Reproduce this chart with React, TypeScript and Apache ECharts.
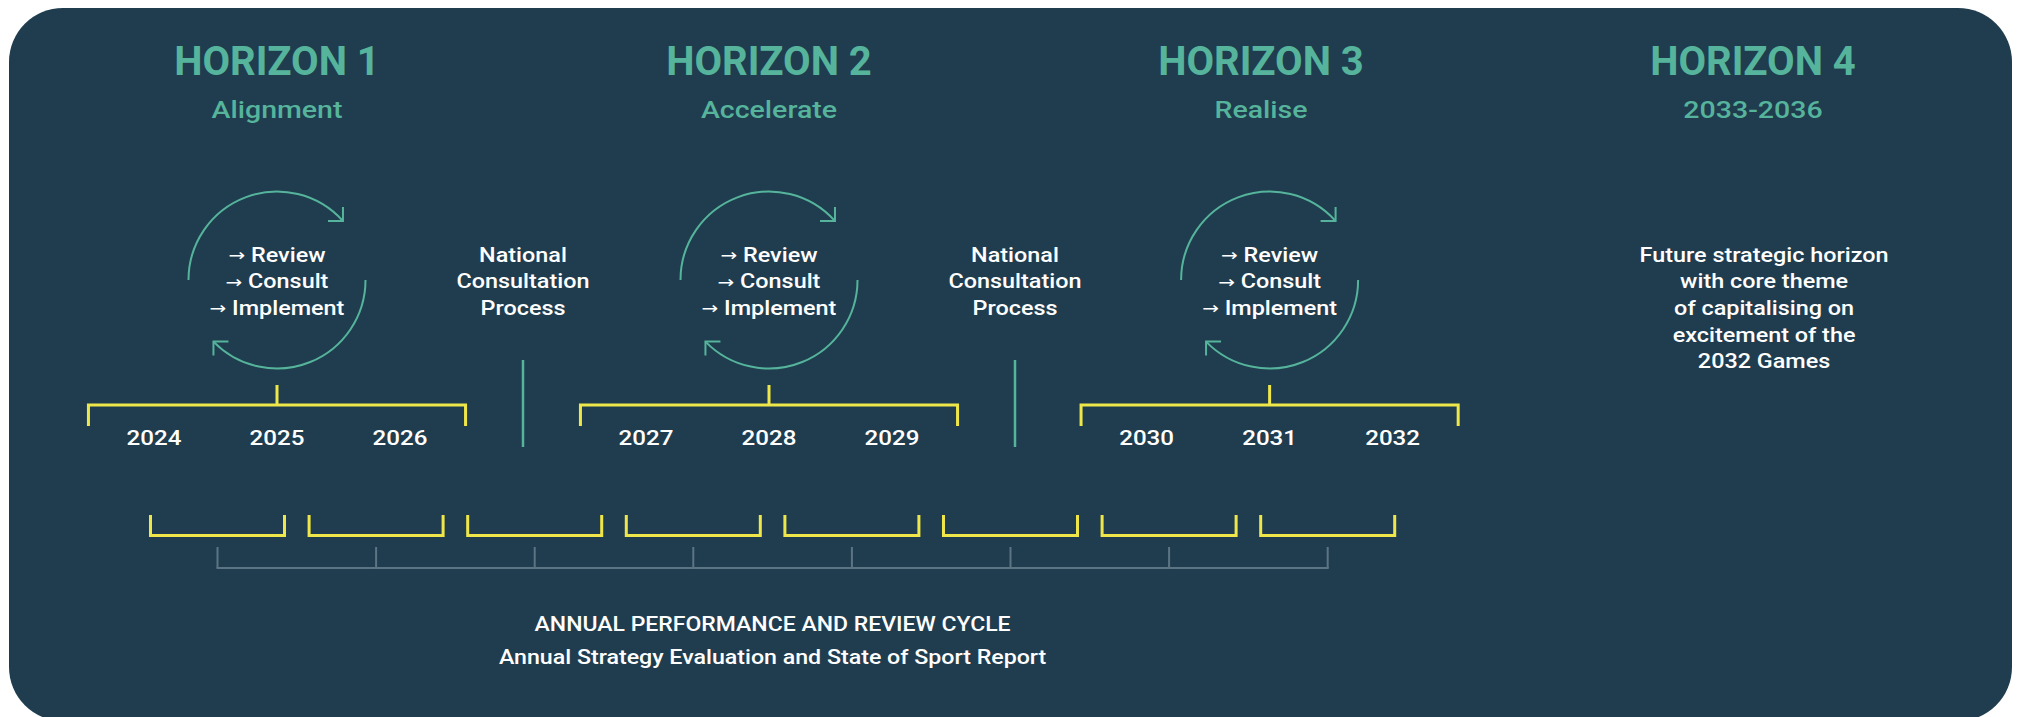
import React, { useEffect, useRef } from "react";
import * as echarts from "echarts";

// ---------------- data ----------------
const horizonTitles = ["HORIZON 1", "HORIZON 2", "HORIZON 3", "HORIZON 4"];
const horizonSubtitles = ["Alignment", "Accelerate", "Realise", "2033-2036"];
const horizonYears = [
  ["2024", "2025", "2026"],
  ["2027", "2028", "2029"],
  ["2030", "2031", "2032"],
];
const cycleSteps = ["→ Review", "→ Consult", "→ Implement"];
const consultationLines = ["National", "Consultation", "Process"];
const horizon4Lines = [
  "Future strategic horizon",
  "with core theme",
  "of capitalising on",
  "excitement of the",
  "2032 Games",
];
const annualReviewYears = ["2024", "2025", "2026", "2027", "2028", "2029", "2030", "2031"];
const footerTitle = "ANNUAL PERFORMANCE AND REVIEW CYCLE";
const footerSubtitle = "Annual Strategy Evaluation and State of Sport Report";

// ---------------- layout ----------------
const W = 2019;
const H = 717;
// year-slot axis (one slot per year, consultation occupies its own slot)
const SLOT0_PX = 154;
const SLOT_PX = 123;
const horizonSlots = [1, 5, 9, 13];
const diagramSlots = [1, 5, 9.07];
const consultationSlots = [3, 7];
const horizon4TextSlot = 13.09;
const BRACKET_HALF = 1.533; // in slots
// annual axis
const ANNUAL0_PX = 217.5;
const ANNUAL_PX = 158.6;
const ANNUAL_BRACKET_FRACTION = 0.845;

// vertical rows (px)
const TITLE_Y = 61.5;
const SUB_Y = 110;
const LINE_Y0 = 255;
const LINE_STEP = 26.6;
const CYCLE_CY = 280;
const CYCLE_R = 88.5;
const STEM_TOP = 385;
const BRACKET_Y = 405;
const BRACKET_END = 426;
const YEAR_Y = 438.5;
const CONS_TOP = 360;
const CONS_BOTTOM = 447;
const ANNUAL_TOP = 515;
const ANNUAL_BOTTOM = 535.5;
const GREY_TOP = 547;
const GREY_Y = 568;
const FOOT1_Y = 624;
const FOOT2_Y = 657.5;

// ---------------- style ----------------
const BG = "#1f3d4f";
const TEAL = "#55b49b";
const YELLOW = "#efe74a";
const GREY = "#5d7484";
const WHITE = "#ffffff";
const FONT = "Roboto, 'Noto Sans', sans-serif";
const ARROW_FONT = "'DejaVu Sans', 'Noto Sans', sans-serif";

const ARC1_END = (-41.8 * Math.PI) / 180;
const ARC2_END = (135.9 * Math.PI) / 180;

function txt(x: number, y: number, text: string, size: number, weight: any, color: string, sx = 1) {
  const hasArrow = text.indexOf("→") >= 0;
  const style: any = {
    text: hasArrow ? text.replace("→", "{a|→}") : text,
    x: 0,
    y: 0,
    fill: color,
    fontSize: size,
    fontWeight: weight,
    fontFamily: FONT,
    align: "center",
    verticalAlign: "middle",
  };
  if (hasArrow) {
    style.rich = {
      a: {
        fontFamily: ARROW_FONT,
        fontSize: size - 3,
        fontWeight: "normal",
        fill: color,
      },
    };
  }
  return {
    type: "text",
    x,
    y,
    scaleX: sx,
    style,
  };
}

function line(x1: number, y1: number, x2: number, y2: number, color: string, w: number) {
  return {
    type: "line",
    shape: { x1, y1, x2, y2 },
    style: { stroke: color, lineWidth: w },
  };
}

function poly(points: number[][], color: string, w: number) {
  return {
    type: "polyline",
    shape: { points },
    style: { stroke: color, lineWidth: w, fill: "none" },
  };
}

export default function App() {
  const ref = useRef<HTMLDivElement>(null);

  useEffect(() => {
    if (!ref.current) return;
    const chart = echarts.init(ref.current, undefined, { renderer: "svg" });

    const option: any = {
      animation: false,
      backgroundColor: "#ffffff",
      grid: { left: 0, right: 0, top: 0, bottom: 0 },
      xAxis: [
        {
          type: "value",
          min: -SLOT0_PX / SLOT_PX,
          max: (W - SLOT0_PX) / SLOT_PX,
          show: false,
        },
        {
          type: "value",
          min: -ANNUAL0_PX / ANNUAL_PX,
          max: (W - ANNUAL0_PX) / ANNUAL_PX,
          show: false,
        },
      ],
      yAxis: { type: "value", min: 0, max: H, inverse: true, show: false },
      graphic: [
        {
          type: "rect",
          z: -1,
          shape: { x: 9, y: 8, width: 2003, height: 713, r: 54 },
          style: { fill: BG },
        },
      ],
      series: [
        // horizon headings
        {
          type: "custom",
          xAxisIndex: 0,
          data: horizonTitles.map((_, i) => [horizonSlots[i], TITLE_Y]),
          renderItem: (params: any, api: any) => {
            const i = params.dataIndex;
            const [x, y] = api.coord([horizonSlots[i], TITLE_Y]);
            const [, y2] = api.coord([horizonSlots[i], SUB_Y]);
            return {
              type: "group",
              children: [
                txt(x, y, horizonTitles[i], 40, "bold", TEAL, 1.0),
                txt(x, y2, horizonSubtitles[i], 23, 500, TEAL, 1.24),
              ],
            };
          },
        },
        // cycles, brackets and years
        {
          type: "custom",
          xAxisIndex: 0,
          data: horizonYears.map((_, i) => [diagramSlots[i], CYCLE_CY]),
          renderItem: (params: any, api: any) => {
            const i = params.dataIndex;
            const s = diagramSlots[i];
            const [cx, cy] = api.coord([s, CYCLE_CY]);
            const [bl] = api.coord([s - BRACKET_HALF, 0]);
            const [br] = api.coord([s + BRACKET_HALF, 0]);
            const t1x = cx + CYCLE_R * Math.cos(ARC1_END);
            const t1y = cy + CYCLE_R * Math.sin(ARC1_END);
            const t2x = cx + CYCLE_R * Math.cos(ARC2_END);
            const t2y = cy + CYCLE_R * Math.sin(ARC2_END);
            const children: any[] = [
              {
                type: "arc",
                shape: { cx, cy, r: CYCLE_R, startAngle: Math.PI, endAngle: 2 * Math.PI + ARC1_END, clockwise: true },
                style: { stroke: TEAL, lineWidth: 2, fill: "none" },
              },
              {
                type: "arc",
                shape: { cx, cy, r: CYCLE_R, startAngle: 0, endAngle: ARC2_END, clockwise: true },
                style: { stroke: TEAL, lineWidth: 2, fill: "none" },
              },
              poly([[t1x, t1y - 14], [t1x, t1y], [t1x - 15, t1y]], TEAL, 2),
              poly([[t2x + 15, t2y], [t2x, t2y], [t2x, t2y + 14]], TEAL, 2),
              poly(
                [
                  [bl, BRACKET_END],
                  [bl, BRACKET_Y],
                  [br, BRACKET_Y],
                  [br, BRACKET_END],
                ],
                YELLOW,
                3
              ),
              line(cx, STEM_TOP, cx, BRACKET_Y, YELLOW, 3),
            ];
            cycleSteps.forEach((t, k) => {
              children.push(txt(cx, LINE_Y0 + k * LINE_STEP, t, 20, 500, WHITE, 1.17));
            });
            horizonYears[i].forEach((yr, k) => {
              const [yx, yy] = api.coord([s + (k - 1), YEAR_Y]);
              children.push(txt(yx, yy, yr, 21, 500, WHITE, 1.15));
            });
            return { type: "group", children };
          },
        },
        // national consultation
        {
          type: "custom",
          xAxisIndex: 0,
          data: consultationSlots.map((s) => [s, CONS_TOP]),
          renderItem: (params: any, api: any) => {
            const s = consultationSlots[params.dataIndex];
            const [x] = api.coord([s, 0]);
            const children: any[] = [line(x, CONS_TOP, x, CONS_BOTTOM, TEAL, 2.5)];
            consultationLines.forEach((t, k) => {
              children.push(txt(x, LINE_Y0 + k * LINE_STEP, t, 20, 500, WHITE, 1.17));
            });
            return { type: "group", children };
          },
        },
        // horizon 4 description
        {
          type: "custom",
          xAxisIndex: 0,
          data: horizon4Lines.map((_, k) => [horizon4TextSlot, LINE_Y0 + k * LINE_STEP]),
          renderItem: (params: any, api: any) => {
            const k = params.dataIndex;
            const [x, y] = api.coord([horizon4TextSlot, LINE_Y0 + k * LINE_STEP]);
            return txt(x, y, horizon4Lines[k], 20, 500, WHITE, 1.17);
          },
        },
        // annual review brackets + grey cycle line
        {
          type: "custom",
          xAxisIndex: 1,
          data: annualReviewYears.map((_, k) => [k, ANNUAL_TOP]),
          renderItem: (params: any, api: any) => {
            const k = params.dataIndex;
            const [x] = api.coord([k, 0]);
            const half = (api.size([ANNUAL_BRACKET_FRACTION, 0])[0]) / 2;
            const children: any[] = [
              poly(
                [
                  [x - half, ANNUAL_TOP],
                  [x - half, ANNUAL_BOTTOM],
                  [x + half, ANNUAL_BOTTOM],
                  [x + half, ANNUAL_TOP],
                ],
                YELLOW,
                3
              ),
              line(x, GREY_TOP, x, GREY_Y, GREY, 2),
            ];
            if (k < annualReviewYears.length - 1) {
              const [xn] = api.coord([k + 1, 0]);
              children.push(line(x - 1, GREY_Y, xn + 1, GREY_Y, GREY, 2));
            }
            return { type: "group", children };
          },
        },
        // footer
        {
          type: "custom",
          xAxisIndex: 1,
          data: [[(annualReviewYears.length - 1) / 2, FOOT1_Y]],
          renderItem: (params: any, api: any) => {
            const mid = (annualReviewYears.length - 1) / 2;
            const [x, y1] = api.coord([mid, FOOT1_Y]);
            const [, y2] = api.coord([mid, FOOT2_Y]);
            return {
              type: "group",
              children: [
                txt(x, y1, footerTitle, 20, 500, WHITE, 1.15),
                txt(x, y2, footerSubtitle, 20, 500, WHITE, 1.16),
              ],
            };
          },
        },
      ],
    };

    chart.setOption(option);
    return () => chart.dispose();
  }, []);

  return (
    <div
      ref={ref}
      style={{ position: "absolute", left: 0, top: 0, width: W, height: H }}
    />
  );
}
